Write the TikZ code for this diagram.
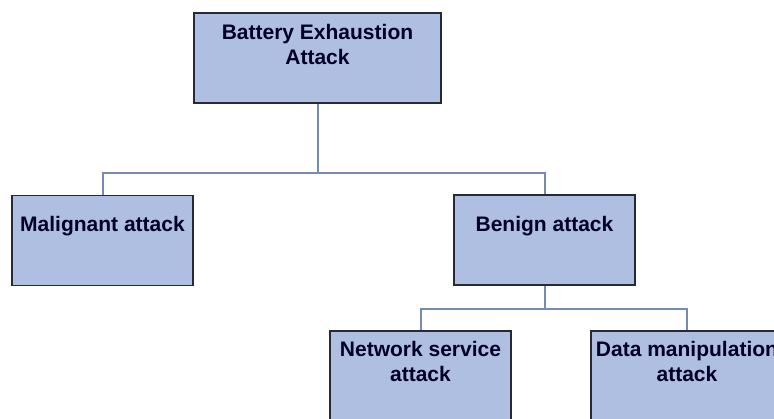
\documentclass[tikz,border=0pt]{standalone}
\usepackage{fontspec}
\setmainfont{Liberation Sans}
\definecolor{boxfill}{RGB}{174,191,225}
\definecolor{boxline}{RGB}{38,42,54}
\definecolor{linkline}{RGB}{118,138,180}
\begin{document}
\begin{tikzpicture}[x=1pt,y=-1pt,
  box/.style={draw=boxline,fill=boxfill,line width=1.8pt,rectangle,inner sep=0pt,minimum height=90pt},
  lbl/.style={anchor=north,inner sep=0pt,align=center,font=\fontsize{21}{25}\selectfont\bfseries,text=black!85!blue},
  link/.style={draw=linkline,line width=2pt}]
\useasboundingbox (0,0) rectangle (774,419);
\fill[white] (0,0) rectangle (774,419);
\clip (0,0) rectangle (774,419);
% boxes
\node[box,minimum width=247pt] (top) at (317.5,58) {};
\node[box,minimum width=181pt] (mal) at (102.5,240.5) {};
\node[box,minimum width=181pt] (ben) at (544.5,240) {};
\node[box,minimum width=181pt] (net) at (420.5,376) {};
\node[box,minimum width=192pt] (dat) at (687,376) {};
% labels
\node[lbl] (topl) at (317.5,24.5) {Battery Exhaustion\\Attack};
\node[lbl] (mall) at (102.5,216.5) {Malignant attack};
\node[lbl] (benl) at (544.5,216.5) {Benign attack};
\node[lbl] (netl) at (420.5,341.5) {Network service\\attack};
\node[lbl] (datl) at (687,341.5) {Data manipulation\\attack};
% connectors
\coordinate (j1) at (317.5,173);
\coordinate (j2) at (544.5,309);
\draw[link] (top.south) -- (j1);
\draw[link] (mal.north) |- (j1) -| (ben.north);
\draw[link] (ben.south) -- (j2);
\draw[link] (net.north) |- (j2) -| (dat.north);
\end{tikzpicture}
\end{document}
